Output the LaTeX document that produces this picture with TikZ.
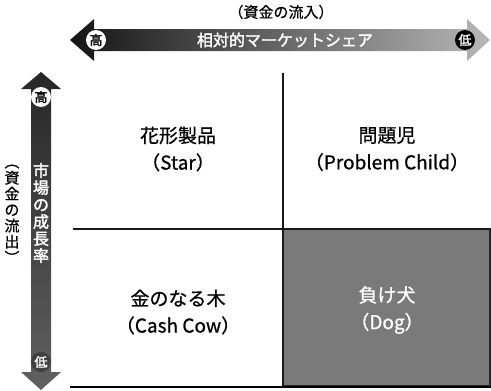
\documentclass[tikz,border=0pt]{standalone}
\usepackage{fontspec}
\setmainfont{Noto Sans CJK JP}
\newfontfamily\jp{Noto Sans CJK JP}[FakeBold=0.8]
\newfontfamily\jpb{Noto Sans CJK JP}[FakeBold=2]
\begin{document}
\begin{tikzpicture}[x=1pt,y=-1pt,
  cell/.style={align=center,font=\jp\fontsize{19}{27}\selectfont,inner sep=0},
  gridline/.style={line width=2pt,black!90},
  badge/.style={circle,inner sep=0,minimum size=20pt,font=\jpb\fontsize{13}{13}\selectfont},
  vlabel/.style={align=center,inner sep=0}
]
\useasboundingbox (0,0) rectangle (491,391);
% dog cell
\fill[black!52] (283,229) rectangle (491,387);
\draw[line width=1.5pt,black!85] (283,229) rectangle (490,386);
% grid lines
\coordinate (vt) at (283,73);
\coordinate (vb) at (283,387);
\coordinate (hl) at (73,229);
\coordinate (hr) at (491,229);
\coordinate (bl) at (70,387);
\coordinate (br) at (491,387);
\draw[gridline] (vt) -- (vb);
\draw[gridline] (hl) -- (hr);
\draw[line width=2.6pt,black] (bl) -- (br);
% horizontal arrow
\shade[left color=black!92,right color=black!28]
  (70,40) -- (94,19) -- (94,29) -- (467,29) -- (467,19) -- (490,40)
  -- (467,61) -- (467,51) -- (94,51) -- (94,61) -- cycle;
\node[badge,fill=white,text=black] (hh) at (96,40) {高};
\node[badge,fill=black,text=white] (hlow) at (465,40) {低};
\node[font=\jpb\fontsize{16}{16}\selectfont,text=white,inner sep=0] (rms) at (285,40) {相対的マーケットシェア};
\node[font=\jp\fontsize{15}{15}\selectfont,inner sep=0] (inflow) at (281,12) {（資金の流入）};
% vertical arrow
\shade[top color=black!85,bottom color=black!62]
  (41,72) -- (21,89) -- (31,89) -- (31,372) -- (21,372) -- (41,390)
  -- (61,372) -- (51,372) -- (51,89) -- (61,89) -- cycle;
\node[badge,fill=white,text=black] (vh) at (41,97) {高};
\node[badge,fill=black!75,text=white] (vlow) at (41,362) {低};
\node[vlabel,font=\jpb\fontsize{16}{17}\selectfont,text=white] (growth) at (41,213)
  {市\\場\\の\\成\\長\\率};
\node[vlabel,font=\jp\fontsize{15}{16}\selectfont] (outflow) at (12,214)
  {︵\\資\\金\\の\\流\\出\\︶};
% cells
\node[cell] (star) at (178,149) {花形製品\\（Star）};
\node[cell] (prob) at (387,149) {問題児\\（Problem Child）};
\node[cell] (cow) at (178,312) {金のなる木\\（Cash Cow）};
\node[cell,text=white] (dog) at (387,310) {負け犬\\（Dog）};
\end{tikzpicture}
\end{document}
